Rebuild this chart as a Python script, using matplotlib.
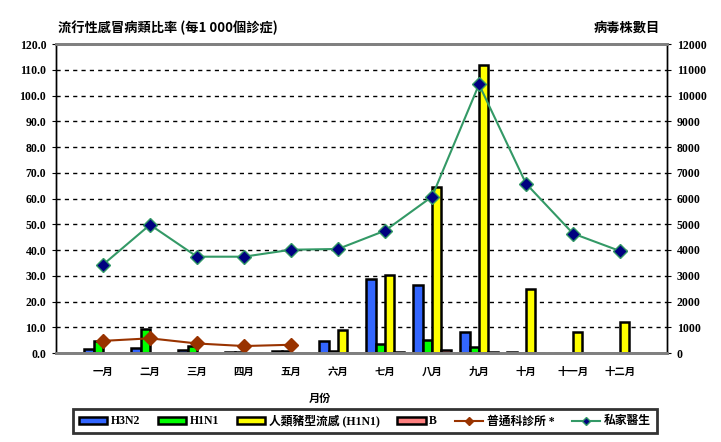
import numpy as np
import matplotlib
matplotlib.use("Agg")
import matplotlib.pyplot as plt
from matplotlib.patches import Patch
from matplotlib.lines import Line2D

months = ['一月', '二月', '三月', '四月', '五月', '六月',
          '七月', '八月', '九月', '十月', '十一月', '十二月']

# virus isolates (right axis)
h3n2 = [150, 200, 100, 50, 80, 470, 2880, 2650, 820, 30, 0, 0]
h1n1 = [470, 930, 270, 50, 80, 80, 350, 500, 230, 0, 0, 0]
swine = [0, 0, 0, 0, 0, 900, 3030, 6430, 11180, 2490, 820, 1200]
flu_b = [0, 0, 0, 0, 0, 10, 50, 100, 50, 10, 0, 0]

# ILI rate per 1000 consultations (left axis)
gp_rate = [4.7, 5.7, 3.7, 2.7, 3.2]
private_rate = [34.3, 49.8, 37.4, 37.4, 40.1, 40.4, 47.5, 60.7, 104.3, 65.8, 46.4, 39.6]

CJK = ['Noto Sans CJK TC', 'DejaVu Sans']
SERIF = ['Liberation Serif', 'Noto Sans CJK TC']

fig = plt.figure(figsize=(7.21, 4.42), dpi=100)
ax = fig.add_axes([56 / 721, 89 / 442, 611 / 721, 309 / 442])
ax2 = ax.twinx()
ax.set_zorder(ax2.get_zorder() + 1)
ax.patch.set_visible(False)

x = np.arange(1, 13)
w = 0.2
series = [(h3n2, '#3366FF'), (h1n1, '#00FF00'), (swine, '#FFFF00'), (flu_b, '#FF8080')]
for i, (vals, col) in enumerate(series):
    ax2.bar(x + (i - 1.5) * w, vals, width=w, color=col, edgecolor='black', linewidth=1.8)

ax2.set_ylim(0, 12000)
ax2.set_yticks(np.arange(0, 12001, 1000))
ax2.grid(axis='y', color='black', linestyle=(0, (3, 3)), linewidth=1)
ax2.set_axisbelow(True)

ax.plot(np.arange(1, 6), gp_rate, color='#993300', linewidth=1.5, marker='D',
        markersize=7.5, markerfacecolor='#993300', markeredgecolor='#993300')
ax.plot(x, private_rate, color='#339966', linewidth=1.5, marker='D',
        markersize=7.5, markerfacecolor='#000080', markeredgecolor='#339966')

ax.set_xlim(0, 13)
ax.set_ylim(0, 120)
ax.set_yticks(np.arange(0, 121, 10))
ax.set_yticklabels([f'{v:.1f}' for v in np.arange(0, 121, 10)])
ax.set_xticks(x)
ax.set_xticklabels(months, family=CJK, fontsize=7.5, fontweight='bold')

for a in (ax, ax2):
    a.tick_params(axis='x', length=0, pad=10)
    a.tick_params(axis='y', length=3, labelsize=8.5, pad=4)
    for lbl in a.get_yticklabels():
        lbl.set_family(SERIF)
        lbl.set_fontweight('bold')
    a.spines['top'].set_color('#808080')
    a.spines['bottom'].set_color('#808080')
    a.spines['top'].set_linewidth(2)
    a.spines['bottom'].set_linewidth(2)
    a.spines['left'].set_linewidth(1)
    a.spines['right'].set_linewidth(1)

fig.text(58 / 721, 1 - 28 / 442, '流行性感冒病類比率 (每1 000個診症)', family=CJK,
         fontsize=9.5, fontweight='bold', va='center', ha='left')
fig.text(660 / 721, 1 - 28 / 442, '病毒株數目', family=CJK,
         fontsize=9.5, fontweight='bold', va='center', ha='right')
fig.text(320 / 721, 1 - 398 / 442, '月份', family=CJK,
         fontsize=8, fontweight='bold', va='center', ha='center')

handles = [Patch(facecolor=c, edgecolor='black', linewidth=1.8) for _, c in series]
handles += [Line2D([], [], color='#993300', marker='D', markersize=4,
                   markerfacecolor='#993300'),
            Line2D([], [], color='#339966', marker='D', markersize=4,
                   markerfacecolor='#000080', markeredgecolor='#339966')]
labels = ['H3N2', 'H1N1', '人類豬型流感 (H1N1)', 'B', '普通科診所 *', '私家醫生']
leg = fig.legend(handles, labels, loc='center', bbox_to_anchor=(365 / 721, 1 - 421 / 442),
                 ncol=6, frameon=True, fancybox=False, borderpad=0.5, handlelength=2.4,
                 handleheight=0.5, handletextpad=0.3, columnspacing=1.5,
                 prop={'family': SERIF, 'weight': 'bold', 'size': 8.5})
leg.get_frame().set_edgecolor('black')
leg.get_frame().set_linewidth(2)

fig.savefig('out.png', dpi=100)
